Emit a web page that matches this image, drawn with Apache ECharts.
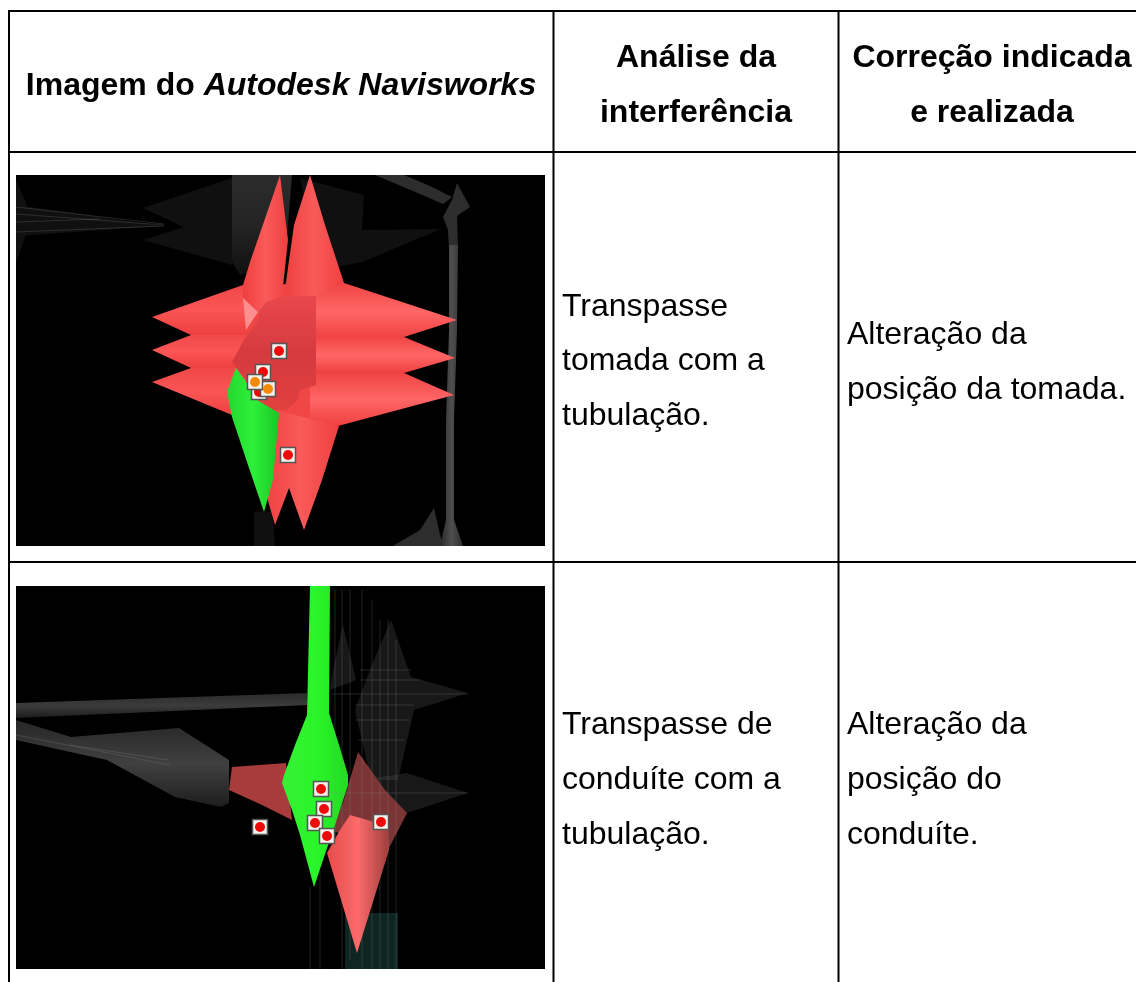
<!DOCTYPE html>
<html><head><meta charset="utf-8">
<style>html,body{margin:0;padding:0;background:#fff}#c{width:1136px;height:982px}</style>
<script src="https://cdn.jsdelivr.net/npm/echarts@6/dist/echarts.min.js"></script>
</head><body><div id="c"></div>
<script>
// Cell texts: [x, y, alignment, text]
const headerTexts = [
  [281, 86, 'center', '{b|Imagem do }{i|Autodesk Navisworks}'],
  [696, 58, 'center', '{b|Análise da}'],
  [696, 113, 'center', '{b|interferência}'],
  [992, 58, 'center', '{b|Correção indicada}'],
  [992, 113, 'center', '{b|e realizada}']
];
const bodyTexts = [
  [562, 307, 'left', 'Transpasse'],
  [562, 361, 'left', 'tomada com a'],
  [562, 416, 'left', 'tubulação.'],
  [847, 335, 'left', 'Alteração da'],
  [847, 390, 'left', 'posição da tomada.'],
  [562, 725, 'left', 'Transpasse de'],
  [562, 780, 'left', 'conduíte com a'],
  [562, 835, 'left', 'tubulação.'],
  [847, 725, 'left', 'Alteração da'],
  [847, 780, 'left', 'posição do'],
  [847, 835, 'left', 'conduíte.']
];
// Table rules: [x1, y1, x2, y2]
const tableRules = [
  [8, 11, 1136, 11], [8, 152, 1136, 152], [8, 562, 1136, 562],
  [9, 10, 9, 982], [553.5, 10, 553.5, 982], [838.5, 10, 838.5, 982]
];
// Shapes: [paint, outline points]
const shapes = [
  ['black', [[16,175],[545,175],[545,546],[16,546]]],
  ['black', [[16,586],[545,586],[545,969],[16,969]]],
  // Picture 1, grey wireframes
  ['wire', [[16,205],[164,226],[16,236]]],
  ['wire', [[16,180],[32,217],[16,263]]],
  ['wire', [[143,208],[232,178],[232,250]]],
  ['wire', [[143,240],[232,212],[232,265]]],
  ['wire', [[300,178],[364,195],[362,230],[441,229],[362,262],[320,270]]],
  ['column', [[232,175],[292,175],[285,262],[240,275],[232,262]]],
  ['greyDark', [[375,175],[404,175],[430,186],[452,197],[443,204],[420,194]]],
  ['greyDark', [[457,183],[470,207],[457,216],[458,250],[449,250],[448,230],[443,217],[452,200]]],
  ['greyH', [[449,245],[458,245],[457,330],[454,420],[454,520],[463,546],[440,546],[446,520],[446,420],[449,330]]],
  ['greyDark', [[434,508],[440,535],[444,546],[393,546],[420,530]]],
  ['wire', [[254,512],[272,512],[275,546],[254,546]]],
  // Picture 1, red star
  ['coreRed', [[243,285],[344,283],[338,426],[232,415],[232,362]]],
  ['spikeH', [[344,283],[457,320],[404,337],[310,340],[310,283]]],
  ['spikeH', [[310,337],[404,337],[455,358],[404,373],[310,373]]],
  ['spikeH', [[310,373],[404,373],[454,395],[338,426],[310,420]]],
  ['spikeL', [[243,285],[152,317],[191,335],[250,335]]],
  ['spikeL', [[250,335],[191,335],[152,350],[191,368],[250,368]]],
  ['spikeL', [[250,368],[191,368],[152,382],[232,415],[250,415]]],
  ['coneV', [[280,175],[268,210],[250,262],[243,285],[243,298],[258,312],[282,296],[288,240]]],
  ['coneV', [[310,175],[294,225],[284,296],[316,296],[344,283],[325,225]]],
  ['coneV', [[275,410],[339,426],[322,480],[304,530],[289,488],[275,525],[262,480]]],
  ['pale', [[243,298],[258,312],[246,330]]],
  ['blob', [[257,323],[260,310],[266,302],[286,296],[316,296],[316,385],[300,390],[298,400],[286,410],[271,410],[257,400],[246,380],[232,362],[245,338]]],
  ['green', [[236,368],[227,392],[232,417],[248,465],[264,512],[273,480],[279,413],[257,400],[246,382]]],
  // Picture 2, grey wireframes
  ['wireHi', [[391,620],[411,677],[468,693],[414,710],[398,780],[371,780],[355,710],[371,667]]],
  ['wireHi', [[343,625],[356,680],[330,690],[333,670]]],
  ['wireHi', [[330,785],[407,773],[468,793],[407,813],[330,820]]],
  ['greyBar', [[16,703],[307,693],[307,705],[16,718]]],
  ['greyH2', [[16,720],[71,737],[179,728],[229,760],[229,803],[221,807],[175,797],[107,760],[16,740]]],
  ['teal', [[345,913],[398,913],[398,969],[345,969]]],
  // Picture 2, red and green
  ['redDim', [[232,767],[286,763],[292,820],[262,805],[229,790]]],
  ['redDim2', [[358,752],[343,803],[330,830],[388,850],[407,813],[385,790]]],
  ['redLow', [[327,853],[357,953],[372,905],[389,850],[388,826],[350,815],[340,830]]],
  ['green2', [[310,586],[330,586],[329,713],[340,748],[348,775],[348,785],[335,825],[323,860],[314,887],[300,835],[292,810],[282,783],[284,775],[295,745],[307,715]]]
];
// Faint mesh lines: [x1, y1, x2, y2]
const meshLines = [
  [16,207,164,224],[16,214,164,225],[16,232,164,226],[16,222,100,219],
  [310,887,310,969],[320,870,320,969],[335,590,335,860],[342,590,342,969],[350,590,350,960],
  [362,590,362,969],[372,600,372,969],[380,620,380,969],[388,620,388,969],[396,640,396,969],
  [16,735,170,765],[70,745,168,760],[330,793,468,793],[332,694,468,694],
  [360,670,411,670],[360,680,420,680],[355,705,414,705],[355,720,410,720],[358,740,405,740]
];
// Clash markers: [x, y]
const redMarkers = [[259,392],[279,351],[263,372],[288,455],[321,789],[324,809],[315,823],[327,836],[260,827],[381,822]];
const orangeMarkers = [[268,389],[255,382]];

const lg = (dir, stops) => ({type:'linear', x:0, y:0, x2:dir?0:1, y2:dir?1:0,
  colorStops: stops.map((c,i)=>({offset:i/(stops.length-1), color:c}))});
const paints = {
  black:'#000',
  wire:'#101010', wireHi:'rgba(80,80,80,0.3)', column:lg(1,['#2c2c2c','#242424','#101010']),
  greyDark:'#2d2d2d',
  greyH:lg(0,['#2a2a2a','#4e4e4e','#2e2e2e']),
  greyBar:lg(1,['#2a2a2a','#3c3c3c','#1c1c1c']),
  greyH2:lg(1,['#262626','#404040','#1e1e1e']),
  teal:'#0e2622',
  coreRed:'#f04646',
  spikeH:lg(1,['#f04444','#ff6666','#ee4040']),
  spikeL:lg(1,['#f04848','#fb5555','#ee4040']),
  coneV:lg(0,['#ee3f3f','#fa5a5a','#ee4040']),
  pale:'#ff8f8f', blob:lg(1,['#e8484c','#d63a3f','#e0403f']),
  green:lg(0,['#22d82e','#2ef03a','#1cc526']),
  green2:lg(0,['#35f035','#2af52a','#22dd22']),
  redDim:'#a83c3c', redDim2:'#7c3535', redLow:lg(0,['#e84a4a','#ff6a6a','#a03c3c'])
};

const chart = echarts.init(document.getElementById('c'), null, {renderer:'canvas'});
const segSeries = (name, data, color, width, opacity) => ({
  type:'custom', name, coordinateSystem:'cartesian2d', silent:true, clip:false,
  data, encode:{x:[0,2], y:[1,3]},
  renderItem:(p, api) => {
    const a = api.coord([api.value(0), api.value(1)]), b = api.coord([api.value(2), api.value(3)]);
    return {type:'line', shape:{x1:a[0],y1:a[1],x2:b[0],y2:b[1]}, style:{stroke:color, lineWidth:width, opacity}};
  }
});
const FONT = '"Liberation Sans", Arial, sans-serif';
const textSeries = (name, rows, size) => ({
  type:'custom', name, coordinateSystem:'cartesian2d', silent:true,
  data:rows.map((r,i)=>[r[0], r[1], i]),
  encode:{x:0, y:1},
  renderItem:(p, api) => {
    const r = rows[api.value(2)];
    const c = api.coord([r[0], r[1]]);
    return {type:'text', style:{
      text:r[3], x:c[0], y:c[1], align:r[2], verticalAlign:'middle', fill:'#000',
      font:size+'px '+FONT,
      rich:{
        b:{font:'bold '+size+'px '+FONT, fill:'#000'},
        i:{font:'italic bold '+size+'px '+FONT, fill:'#000'}
      }
    }};
  }
});
const markerSeries = (name, data, color) => [
  {type:'scatter', name:name+' box', data, symbol:'rect', symbolSize:15, silent:true,
   itemStyle:{color:'#f4f2ea', borderColor:'#555', borderWidth:1.5, opacity:1}},
  {type:'scatter', name:name+' dot', data, symbol:'circle', symbolSize:10, silent:true,
   itemStyle:{color, opacity:1}}
];
chart.setOption({
  animation:false,
  backgroundColor:'#fff',
  grid:{left:0,right:0,top:0,bottom:0},
  xAxis:{type:'value',min:0,max:1136,show:false},
  yAxis:{type:'value',min:0,max:982,inverse:true,show:false},
  series:[
    {type:'custom', name:'picture shapes', coordinateSystem:'cartesian2d', silent:true,
     data:shapes.map((s,i)=>[s[1][0][0], s[1][0][1], i]),
     renderItem:(p, api) => {
       const s = shapes[api.value(2)];
       return {type:'polygon', shape:{points:s[1].map(q=>api.coord(q))}, style:{fill:paints[s[0]]}};
     }},
    segSeries('mesh', meshLines, '#8a8a8a', 1, 0.25),
    ...markerSeries('clash red', redMarkers, '#ee0a0a'),
    ...markerSeries('clash orange', orangeMarkers, '#f58a0a'),
    segSeries('table rules', tableRules, '#000', 2, 1),
    textSeries('header', headerTexts, 32),
    textSeries('body', bodyTexts, 32)
  ]
});
</script></body></html>
